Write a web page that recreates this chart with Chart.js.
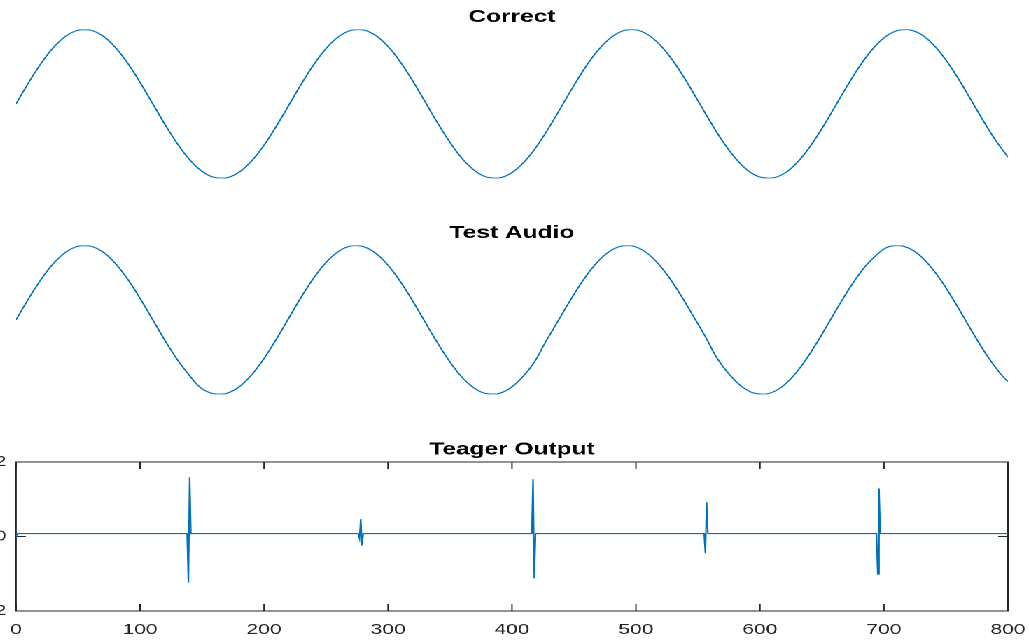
<!DOCTYPE html>
<html>
<head>
<meta charset="utf-8">
<script src="https://cdn.jsdelivr.net/npm/chart.js@4.4.0/dist/chart.umd.min.js"></script>
<style>
  html, body { margin: 0; padding: 0; background: #fff; overflow: hidden; }
  /* the reference figure is stretched sideways, so draw narrow and scale it */
  #figure { position: absolute; left: 0; top: 0; width: 735px; height: 644px;
            transform: scaleX(1.4); transform-origin: 0 0; }
  #figure canvas { position: absolute; }
</style>
</head>
<body>
<div id="figure">
  <canvas id="correct" width="735" height="216" style="left:0;top:0;width:735px;height:216px"></canvas>
  <canvas id="test" width="735" height="216" style="left:0;top:216px;width:735px;height:216px"></canvas>
  <canvas id="teager" width="765" height="212" style="left:-30px;top:432px;width:765px;height:212px"></canvas>
</div>
<script>
// sample positions read along the clean sine
const correctX = [0, 10, 20, 30, 40, 50, 60, 70, 80, 90, 100, 110, 120, 130, 140, 150, 160, 170, 180, 190,
  200, 210, 220, 230, 240, 250, 260, 270, 280, 290, 300, 310, 320, 330, 340, 350, 360, 370, 380, 390,
  400, 410, 420, 430, 440, 450, 460, 470, 480, 490, 500, 510, 520, 530, 540, 550, 560, 570, 580, 590,
  600, 610, 620, 630, 640, 650, 660, 670, 680, 690, 700, 710, 720, 730, 740, 750, 760, 770, 780, 790, 800];
const correctY = [0, 0.281, 0.539, 0.754, 0.908, 0.989, 0.990, 0.912, 0.760, 0.547, 0.289, 0.009,
  -0.273, -0.532, -0.749, -0.905, -0.988, -0.992, -0.915, -0.765, -0.554, -0.297, -0.017,
  0.265, 0.525, 0.743, 0.901, 0.987, 0.993, 0.919, 0.771, 0.561, 0.306, 0.026,
  -0.256, -0.517, -0.738, -0.897, -0.985, -0.994, -0.922, -0.776, -0.568, -0.314, -0.034,
  0.248, 0.510, 0.731, 0.893, 0.984, 0.995, 0.925, 0.782, 0.575, 0.322, 0.043,
  -0.240, -0.503, -0.725, -0.890, -0.982, -0.995, -0.929, -0.787, -0.582, -0.330, -0.051,
  0.231, 0.495, 0.719, 0.886, 0.980, 0.996, 0.932, 0.792, 0.589, 0.338, 0.060,
  -0.223, -0.488, -0.713];

// test audio: same tone, nudged forward a little at each glitch
const testX = [0, 10, 20, 30, 40, 50, 60, 70, 80, 90, 100, 110, 120, 130, 140,
  148.5, 158.5, 168.5, 178.5, 188.5, 198.5, 208.5, 218.5, 228.5, 238.5, 248.5, 258.5, 268.5,
  278, 288, 298, 308, 318, 328, 338, 348, 358, 368, 378, 388, 398, 408, 418,
  426.5, 436.5, 446.5, 456.5, 466.5, 476.5, 486.5, 496.5, 506.5, 516.5, 526.5, 536.5, 546.5, 556.5,
  565, 575, 585, 595, 605, 615, 625, 635, 645, 655, 665, 675, 685, 695,
  703.5, 713.5, 723.5, 733.5, 743.5, 753.5, 763.5, 773.5, 783.5, 793.5, 800];
const testY = [0, 0.281, 0.539, 0.754, 0.908, 0.989, 0.990, 0.912, 0.760, 0.547, 0.289, 0.009,
  -0.273, -0.532, -0.749, -0.905, -0.988, -0.992, -0.915, -0.765, -0.554, -0.297, -0.017,
  0.265, 0.525, 0.743, 0.901, 0.987, 0.993, 0.919, 0.771, 0.561, 0.306, 0.026,
  -0.256, -0.517, -0.738, -0.897, -0.985, -0.994, -0.922, -0.776, -0.568, -0.314, -0.034,
  0.248, 0.510, 0.731, 0.893, 0.984, 0.995, 0.925, 0.782, 0.575, 0.322, 0.043,
  -0.240, -0.503, -0.725, -0.890, -0.982, -0.995, -0.929, -0.787, -0.582, -0.330, -0.051,
  0.231, 0.495, 0.719, 0.886, 0.980, 0.996, 0.932, 0.792, 0.589, 0.338, 0.060,
  -0.223, -0.488, -0.713, -0.830];

// teager energy: flat floor with spikes at the glitches
const teagerX = [0, 1, 138, 139, 140, 141, 276, 277, 278, 279, 280, 416, 417, 418, 419,
  555, 556, 557, 558, 694, 695, 696, 697, 800];
const teagerY = [0, 0.08, 0.08, -1.24, 1.59, 0.08, 0.08, -0.05, 0.47, -0.24, 0.08, 0.08, 1.54, -1.12, 0.08,
  0.08, -0.45, 0.92, 0.08, 0.08, -1.01, 1.29, 0.08, 0.08];

const xTicks = [0, 100, 200, 300, 400, 500, 600, 700, 800];
const yTicks = [-2, 0, 2];

const lineBlue = '#0072BD';
const axisGray = '#262626';
const fontFamily = '"Liberation Sans", Arial, Helvetica, sans-serif';

const toPoints = (xs, ys) => xs.map((x, i) => ({ x, y: ys[i] }));

// panel titles centred over the plot box
const panelTitle = {
  id: 'panelTitle',
  afterDraw(chart, args, opts) {
    const { ctx, chartArea: a } = chart;
    ctx.save();
    ctx.font = 'bold 17.5px ' + fontFamily;
    ctx.fillStyle = '#000';
    ctx.textAlign = 'center';
    ctx.textBaseline = 'alphabetic';
    ctx.fillText(opts.text, (a.left + a.right) / 2, a.top - 7.5);
    ctx.restore();
  }
};

// boxed axes with ticks pointing inwards
const insideTicks = {
  id: 'insideTicks',
  beforeDatasetsDraw(chart) {
    const { ctx, chartArea: a, scales: { x, y } } = chart;
    const len = 7;
    ctx.save();
    ctx.strokeStyle = axisGray;
    ctx.lineWidth = 1;
    ctx.strokeRect(a.left, a.top, a.width, a.height);
    ctx.beginPath();
    xTicks.forEach(v => {
      const px = x.getPixelForValue(v);
      ctx.moveTo(px, a.bottom); ctx.lineTo(px, a.bottom - len);
      ctx.moveTo(px, a.top); ctx.lineTo(px, a.top + len);
    });
    yTicks.forEach(v => {
      const py = y.getPixelForValue(v);
      ctx.moveTo(a.left, py); ctx.lineTo(a.left + len, py);
      ctx.moveTo(a.right, py); ctx.lineTo(a.right - len, py);
    });
    ctx.stroke();
    ctx.restore();
  }
};

function sinePanel(id, title, xs, ys) {
  return new Chart(document.getElementById(id), {
    type: 'line',
    data: {
      datasets: [{
        data: toPoints(xs, ys),
        borderColor: lineBlue,
        borderWidth: 1.1,
        pointRadius: 0,
        tension: 0.4,
        fill: false
      }]
    },
    options: {
      responsive: false,
      animation: false,
      devicePixelRatio: 2,
      layout: { padding: { left: 11.43, right: 15, top: 29.4, bottom: 37.6 } },
      scales: {
        x: { type: 'linear', min: 0, max: 800, display: false },
        y: { min: -1, max: 1, display: false }
      },
      plugins: {
        legend: { display: false },
        tooltip: { enabled: false },
        panelTitle: { text: title }
      }
    },
    plugins: [panelTitle]
  });
}

sinePanel('correct', 'Correct', correctX, correctY);
sinePanel('test', 'Test Audio', testX, testY);

new Chart(document.getElementById('teager'), {
  type: 'line',
  data: {
    datasets: [{
      data: toPoints(teagerX, teagerY),
      borderColor: lineBlue,
      borderWidth: 1.1,
      pointRadius: 0,
      tension: 0,
      fill: false
    }]
  },
  options: {
    responsive: false,
    animation: false,
    devicePixelRatio: 2,
    layout: { padding: { left: 0, right: 15, top: 30, bottom: 0 } },
    scales: {
      x: {
        type: 'linear', min: 0, max: 800,
        afterFit: s => { s.height = 33; s.paddingLeft = 0; s.paddingRight = 0; },
        afterBuildTicks: s => { s.ticks = xTicks.map(v => ({ value: v })); },
        grid: { display: false, drawTicks: false },
        border: { display: false },
        ticks: { color: axisGray, padding: 10, maxRotation: 0, autoSkip: false,
                 font: { family: fontFamily, size: 15 } }
      },
      y: {
        min: -2, max: 2,
        afterFit: s => { s.width = 41.43; s.paddingTop = 0; s.paddingBottom = 0; },
        afterBuildTicks: s => { s.ticks = yTicks.map(v => ({ value: v })); },
        grid: { display: false, drawTicks: false },
        border: { display: false },
        ticks: { color: axisGray, padding: 7, font: { family: fontFamily, size: 15 } }
      }
    },
    plugins: {
      legend: { display: false },
      tooltip: { enabled: false },
      panelTitle: { text: 'Teager Output' }
    }
  },
  plugins: [panelTitle, insideTicks]
});
</script>
</body>
</html>
